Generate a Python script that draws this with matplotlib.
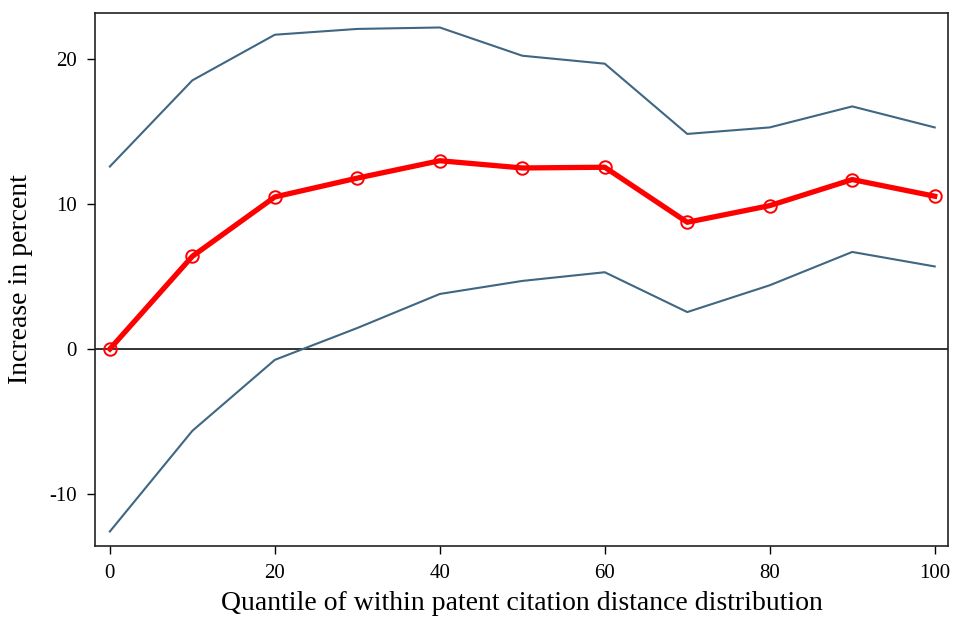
import numpy as np
import matplotlib.pyplot as plt

plt.rcParams['font.family'] = ['Liberation Serif', 'DejaVu Serif']
plt.rcParams['axes.unicode_minus'] = False

# quantile grid and estimates with 95% bands
quantile = [0, 10, 20, 30, 40, 50, 60, 70, 80, 90, 100]
estimate = [0.0, 6.4, 10.5, 11.8, 13.0, 12.5, 12.55, 8.75, 9.9, 11.7, 10.55]
upper = [12.6, 18.55, 21.7, 22.1, 22.2, 20.25, 19.7, 14.85, 15.3, 16.75, 15.3]
lower = [-12.6, -5.65, -0.75, 1.45, 3.8, 4.7, 5.3, 2.55, 4.4, 6.7, 5.7]

fig = plt.figure(figsize=(9.54, 6.19), dpi=100)
ax = fig.add_axes([0.0996, 0.118, 0.894, 0.861])

band_color = '#3f6682'
ax.plot(quantile, upper, color=band_color, lw=1.5)
ax.plot(quantile, lower, color=band_color, lw=1.5)
ax.axhline(0, color='#333333', lw=1.4, zorder=1)
ax.plot(quantile, estimate, color='#ff0000', lw=3.8, marker='o', ms=9,
        mfc='none', mec='#ff0000', mew=1.4, zorder=3)

ax.set_xlim(-1.8, 101.6)
ax.set_ylim(-13.6, 23.2)
ax.set_xticks(np.arange(0, 101, 20))
ax.set_yticks([-10, 0, 10, 20])
ax.tick_params(direction='out', length=6, width=1, labelsize=15, pad=7)
for s in ax.spines.values():
    s.set_linewidth(1.2)
    s.set_color('#222222')

ax.set_xlabel('Quantile of within patent citation distance distribution', fontsize=20, labelpad=6)
ax.set_ylabel('Increase in percent', fontsize=20, labelpad=12)

fig.savefig('out.png', dpi=100)
